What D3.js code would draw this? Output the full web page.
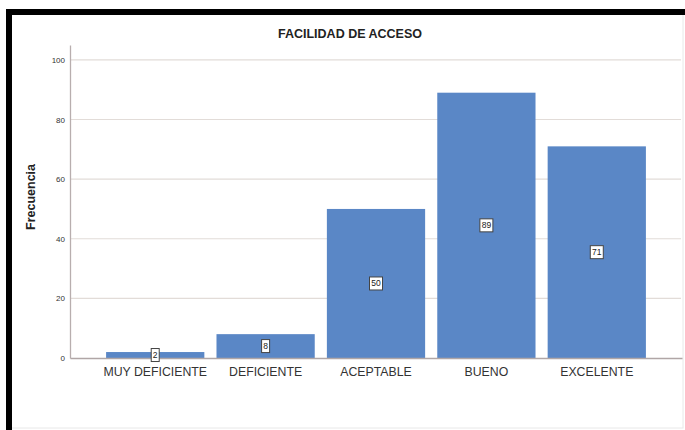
<!DOCTYPE html>
<html>
<head>
<meta charset="utf-8">
<script src="https://cdn.jsdelivr.net/npm/d3@7"></script>
<style>
	body { margin: 0; background: #fff; }
</style>
</head>
<body>
<div class="fac"></div>
<script>
// Datos del gráfico
const categorias = ['MUY DEFICIENTE', 'DEFICIENTE', 'ACEPTABLE', 'BUENO', 'EXCELENTE'];
const frecuencias = [2, 8, 50, 89, 71];
const ticksY = [0, 20, 40, 60, 80, 100];
const titulo = 'FACILIDAD DE ACCESO';
const tituloY = 'Frecuencia';

// Parámetros de la visualización
const width = 685;
const height = 430;
const margin = { top: 45, right: 3, bottom: 72, left: 70 };

let svg, escalaX, escalaY;

function setup() {
	svg = d3.select('.fac')
		.append('svg')
		.attr('width', width)
		.attr('height', height)
		.attr('style', 'font-family: "Liberation Sans", Arial, sans-serif; display: block');

	// Marco (negro arriba / izquierda, gris claro abajo / derecha)
	svg.append('rect')
		.attr('x', 9).attr('y', 12)
		.attr('width', width - 11).attr('height', height - 14)
		.attr('fill', '#fff')
		.attr('stroke', '#e8e8e8')
		.attr('stroke-width', 1);
	svg.append('line')
		.attr('x1', 6).attr('x2', width).attr('y1', 12).attr('y2', 12)
		.attr('stroke', '#000').attr('stroke-width', 6);
	svg.append('line')
		.attr('x1', 9).attr('x2', 9).attr('y1', 9).attr('y2', height)
		.attr('stroke', '#000').attr('stroke-width', 6);

	// Escalas
	escalaX = d3.scaleBand()
		.domain(categorias)
		.range([margin.left, width - margin.right])
		.paddingInner(0.11)
		.paddingOuter(0.327);

	escalaY = d3.scaleLinear()
		.domain([0, 105])
		.range([height - margin.bottom, margin.top]);
}

function graficar() {
	// Líneas de cuadrícula
	svg.append('g')
		.selectAll('line')
		.data(ticksY.filter(d => d > 0))
		.join('line')
			.attr('x1', margin.left + 1)
			.attr('x2', width - margin.right - 1)
			.attr('y1', d => escalaY(d))
			.attr('y2', d => escalaY(d))
			.attr('stroke', '#e2dcd8')
			.attr('stroke-width', 1.2);

	// Eje vertical
	svg.append('g')
		.attr('transform', `translate(${margin.left}, 0)`)
		.call(d3.axisLeft(escalaY).tickValues(ticksY).tickSize(0).tickPadding(5))
		.call(g => g.select('.domain').attr('stroke', '#b8aeae').attr('stroke-width', 1.3))
		.call(g => g.selectAll('text')
			.attr('font-size', 8)
			.attr('font-family', '"Liberation Sans", Arial, sans-serif')
			.attr('fill', '#333'));

	// Barras
	svg.append('g')
		.selectAll('rect')
		.data(frecuencias)
		.join('rect')
			.attr('x', (d, i) => escalaX(categorias[i]))
			.attr('y', d => escalaY(d))
			.attr('width', escalaX.bandwidth())
			.attr('height', d => escalaY(0) - escalaY(d))
			.attr('fill', '#5a87c6');

	// Eje horizontal
	svg.append('g')
		.attr('transform', `translate(0, ${escalaY(0)})`)
		.call(d3.axisBottom(escalaX).tickSize(0).tickPadding(9))
		.call(g => g.select('.domain').attr('stroke', '#b0a6a6').attr('stroke-width', 1.3))
		.call(g => g.selectAll('text')
			.attr('font-size', 12.3)
			.attr('font-family', '"Liberation Sans", Arial, sans-serif')
			.attr('fill', '#333'));

	// Etiquetas de valores (cajas en el centro de cada barra)
	const etiquetas = svg.append('g')
		.selectAll('g')
		.data(frecuencias)
		.join('g')
			.attr('transform', (d, i) => `translate(${escalaX(categorias[i]) + escalaX.bandwidth() / 2}, ${escalaY(d / 2)})`);

	etiquetas.append('rect')
		.attr('x', d => String(d).length > 1 ? -6.5 : -4)
		.attr('y', -6.5)
		.attr('width', d => String(d).length > 1 ? 13 : 8)
		.attr('height', 13)
		.attr('fill', '#fff')
		.attr('stroke', '#444')
		.attr('stroke-width', 1);

	etiquetas.append('text')
		.attr('text-anchor', 'middle')
		.attr('dy', '0.35em')
		.attr('font-size', 8.5)
		.attr('fill', '#222')
		.text(d => d);

	// Título
	svg.append('text')
		.attr('x', (margin.left + width - margin.right) / 2 - 26)
		.attr('y', 34)
		.attr('dy', '0.35em')
		.attr('text-anchor', 'middle')
		.attr('font-size', 12.5)
		.attr('font-weight', 'bold')
		.attr('fill', '#222')
		.text(titulo);

	// Título del eje vertical
	svg.append('text')
		.attr('transform', `translate(31, 197) rotate(-90)`)
		.attr('dy', '0.35em')
		.attr('text-anchor', 'middle')
		.attr('font-size', 12.5)
		.attr('font-weight', 'bold')
		.attr('fill', '#222')
		.text(tituloY);
}

setup();
graficar();
</script>
</body>
</html>
